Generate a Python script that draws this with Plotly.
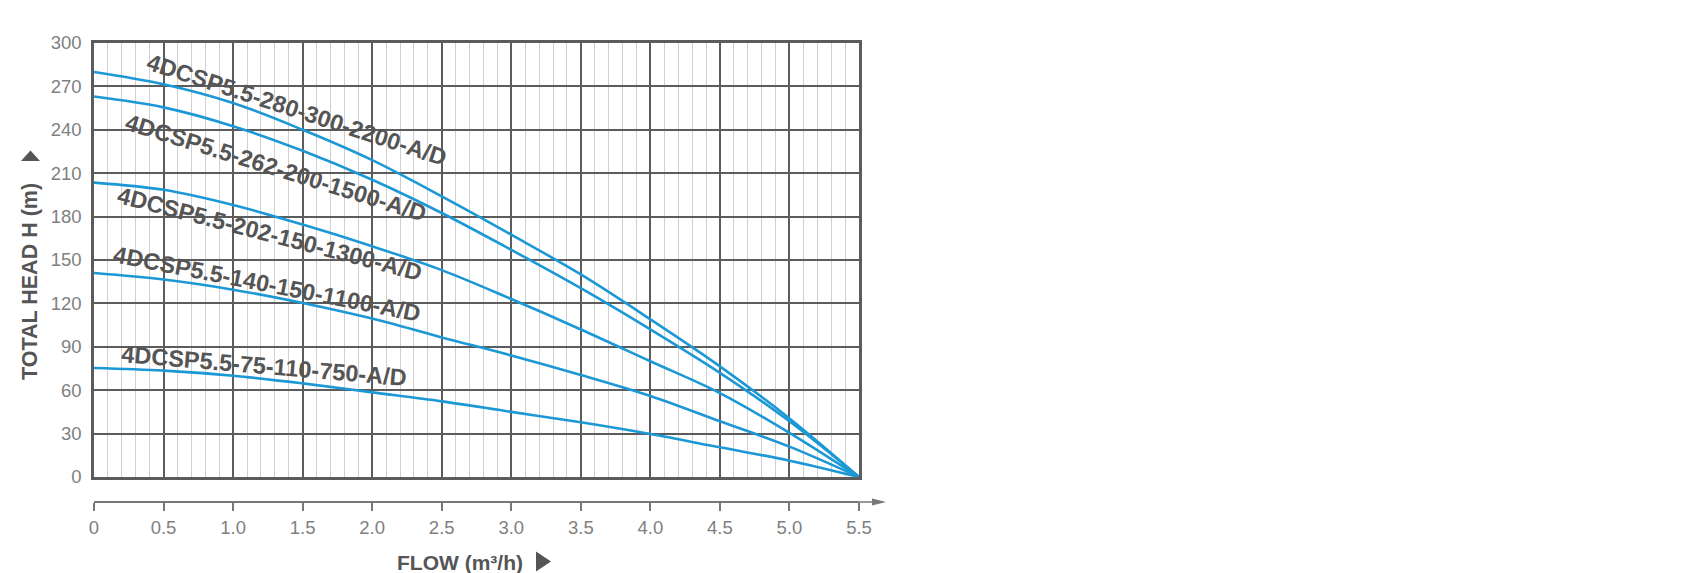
import plotly.graph_objects as go

# ---------------- data ----------------
flow = [0, 0.5, 1.0, 1.5, 2.0, 2.5, 3.0, 3.5, 4.0, 4.5, 5.0, 5.5]
head_280 = [280, 271.5, 258.5, 240, 219, 194, 167.5, 140, 109, 76.5, 40.5, 0]
head_262 = [263, 255.5, 242.5, 225.5, 205.5, 182.5, 157, 130.5, 102, 72, 38.5, 0]
head_202 = [203.5, 198.5, 188, 174.5, 159.5, 143, 123, 102, 80, 58, 30.5, 0]
head_140 = [141, 136.5, 129.5, 120.3, 109.5, 96.5, 84, 70.5, 56, 38.5, 21, 0]
head_75 = [75.3, 73.5, 70, 64.7, 58.5, 52.3, 45, 37.8, 29.7, 20.5, 11.3, 0]

model_names = [
    "4DCSP5.5-280-300-2200-A/D",
    "4DCSP5.5-262-200-1500-A/D",
    "4DCSP5.5-202-150-1300-A/D",
    "4DCSP5.5-140-150-1100-A/D",
    "4DCSP5.5-75-110-750-A/D",
]
series = [head_280, head_262, head_202, head_140, head_75]

x_ticks = [0, 0.5, 1.0, 1.5, 2.0, 2.5, 3.0, 3.5, 4.0, 4.5, 5.0, 5.5]
x_tick_labels = ["0", "0.5", "1.0", "1.5", "2.0", "2.5", "3.0", "3.5", "4.0", "4.5", "5.0", "5.5"]
y_ticks = [0, 30, 60, 90, 120, 150, 180, 210, 240, 270, 300]

# ---------------- layout geometry ----------------
W, H = 1698, 573
L, R, T, B = 86, 851, 35, 494      # paper box in pixels (B = separate x-axis line)
PLOT_BOTTOM = 469                   # bottom of the gridded area


def px(x):
    return (x - L) / (R - L)


def py(y):
    return (B - y) / (B - T)


BLUE = "#1b98d5"
GRID = "#5c5c5c"
TXT = "#555555"
TICK = "#808080"

fig = go.Figure()
for vals in series:
    fig.add_trace(go.Scatter(
        x=flow, y=vals, mode="lines",
        line=dict(color=BLUE, width=2.6, shape="spline", smoothing=1.0),
        hoverinfo="skip", showlegend=False,
    ))
# invisible trace so the detached lower x axis is drawn
fig.add_trace(go.Scatter(
    x=flow, y=head_75, xaxis="x2", mode="lines",
    line=dict(width=0), opacity=0, hoverinfo="skip", showlegend=False,
))

# label placement (angle in degrees, centre in data units)
label_pos = [(1.46, 253.5, 18.0), (1.31, 213.5, 17.2), (1.265, 168.0, 14.5),
             (1.245, 133.5, 11.0), (1.22, 77.0, 4.8)]
annotations = []
for name, (lx, ly, ang) in zip(model_names, label_pos):
    annotations.append(dict(
        x=lx, y=ly, xref="x", yref="y", text=name, showarrow=False,
        textangle=ang, xanchor="center", yanchor="middle",
        font=dict(family="Liberation Sans", size=23.5, color=TXT, weight="bold"),
    ))

annotations.append(dict(
    x=px(22), y=py(274), xref="paper", yref="paper",
    text="TOTAL HEAD H (m)", showarrow=False, textangle=-90,
    xanchor="center", yanchor="middle",
    font=dict(family="Liberation Sans", size=21.5, color=TXT, weight="bold"),
))
annotations.append(dict(
    x=px(452), y=py(554), xref="paper", yref="paper",
    text="FLOW (m³/h)", showarrow=False,
    xanchor="center", yanchor="middle",
    font=dict(family="Liberation Sans", size=21, color=TXT, weight="bold"),
))

shapes = [
    # up triangle of y title
    dict(type="path", xref="paper", yref="paper",
         path=f"M {px(13)},{py(153)} L {px(32)},{py(153)} L {px(22.5)},{py(142.5)} Z",
         fillcolor=TXT, line=dict(width=0)),
    # right triangle of x title
    dict(type="path", xref="paper", yref="paper",
         path=f"M {px(528)},{py(543.5)} L {px(528)},{py(563.5)} L {px(543)},{py(553.5)} Z",
         fillcolor=TXT, line=dict(width=0)),
    # x-axis extension + arrow head
    dict(type="line", xref="paper", yref="paper",
         x0=1, x1=px(868), y0=0, y1=0, line=dict(color="#777777", width=1.5)),
    dict(type="path", xref="paper", yref="paper",
         path=f"M {px(864)},{py(490.6)} L {px(878)},{py(494)} L {px(864)},{py(497.4)} Z",
         fillcolor="#777777", line=dict(width=0)),
]

fig.update_layout(
    width=W, height=H,
    margin=dict(l=L, r=W - R, t=T, b=H - B, pad=0),
    paper_bgcolor="white", plot_bgcolor="white",
    showlegend=False,
    annotations=annotations,
    shapes=shapes,
    xaxis=dict(
        range=[0, 5.5], tick0=0, dtick=0.5,
        showgrid=True, gridcolor=GRID, gridwidth=2,
        minor=dict(dtick=0.1, showgrid=True, gridcolor="#d0d0d0", gridwidth=1),
        showticklabels=False, ticks="",
        showline=True, mirror=True, linecolor=GRID, linewidth=2.5,
        zeroline=False, fixedrange=True,
    ),
    xaxis2=dict(
        overlaying="x", anchor="free", position=0, side="bottom",
        range=[0, 5.5], tickmode="array", tickvals=x_ticks, ticktext=x_tick_labels,
        ticks="outside", ticklen=8, tickwidth=1.5, tickcolor="#777777",
        showline=True, linecolor="#777777", linewidth=1.5,
        showgrid=False, zeroline=False, ticklabelstandoff=1,
        tickfont=dict(family="Liberation Sans", size=18.5, color=TICK),
        fixedrange=True,
    ),
    yaxis=dict(
        domain=[(B - PLOT_BOTTOM) / (B - T), 1],
        range=[0, 300], tickmode="array", tickvals=y_ticks,
        showgrid=True, gridcolor=GRID, gridwidth=2,
        ticks="", ticklabelstandoff=6,
        tickfont=dict(family="Liberation Sans", size=18.5, color=TICK),
        showline=True, mirror=True, linecolor=GRID, linewidth=2.5,
        zeroline=False, fixedrange=True,
    ),
)

fig.write_html("out.html")
